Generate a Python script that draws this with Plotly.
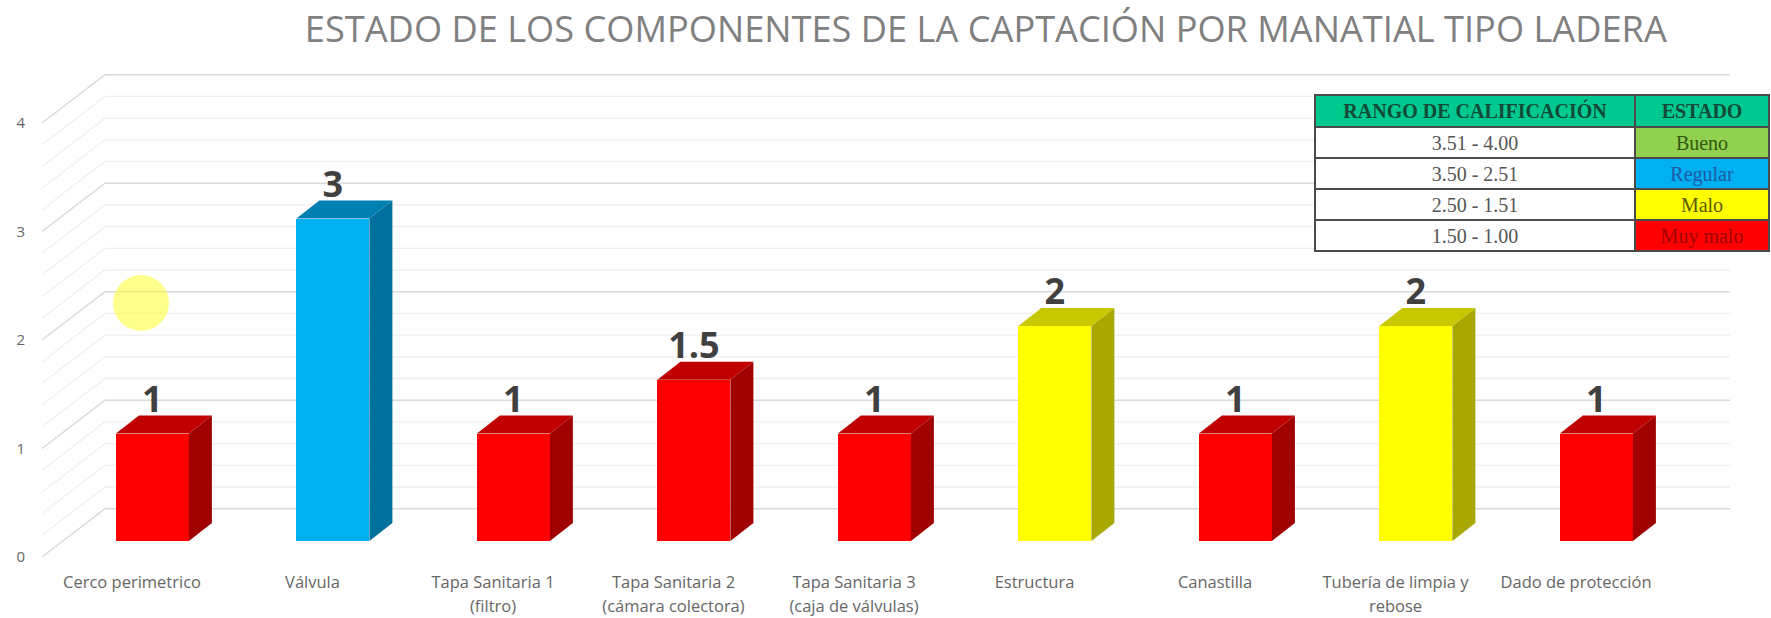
import plotly.graph_objects as go

categories_line1 = ["Cerco perimetrico", "Válvula", "Tapa Sanitaria 1", "Tapa Sanitaria 2", "Tapa Sanitaria 3",
                    "Estructura", "Canastilla", "Tubería de limpia y", "Dado de protección"]
categories_line2 = ["", "", "(filtro)", "(cámara colectora)", "(caja de válvulas)", "", "", "rebose", ""]
values = [1, 3, 1, 1.5, 1, 2, 1, 2, 1]
value_labels = ["1", "3", "1", "1.5", "1", "2", "1", "2", "1"]
state = ["malo+", "regular", "malo+", "malo+", "malo+", "malo", "malo+", "malo", "malo+"]
y_ticks = [0, 1, 2, 3, 4]
table_ranges = ["3.51 - 4.00", "3.50 - 2.51", "2.50 - 1.51", "1.50 - 1.00"]
table_states = ["Bueno", "Regular", "Malo", "Muy malo"]

FRONT = {"malo+": "#FF0000", "regular": "#00B0F0", "malo": "#FFFF00"}
TOP = {"malo+": "#C00000", "regular": "#0080B0", "malo": "#C8C800"}
SIDE = {"malo+": "#A00000", "regular": "#00709C", "malo": "#A8A800"}

W, H = 1771, 618
PL, PB = 35, 56            # plot margins
PX_X = 180.5               # px per category
X0_PX = 132                # px of category 0 label
BAR_OFF = 0.113            # bar centre offset from label
BAR_W = 73 / PX_X
DX = 23 / PX_X
PT = 0
plot_bottom = H - PB
BAR_UNIT, BAR_ZERO = 107.5, 541
WALL_UNIT, WALL_ZERO = 108.5, 557
DY = 18 / BAR_UNIT
WALL_BACK = 0.445
WX_FRONT = (42 - X0_PX) / PX_X
WX_BACK = (105 - X0_PX) / PX_X
WX_END = (1730 - X0_PX) / PX_X

x_range = [(PL - X0_PX) / PX_X, (W - X0_PX) / PX_X]
wall_range = [(WALL_ZERO - plot_bottom) / WALL_UNIT, WALL_ZERO / WALL_UNIT]
bar_range = [(BAR_ZERO - plot_bottom) / BAR_UNIT, BAR_ZERO / BAR_UNIT]

fig = go.Figure()

# Gridlines (walls), lowest layer
for k in range(0, 21):
    v = k * 0.2
    major = k % 5 == 0
    fig.add_trace(go.Scatter(
        x=[WX_FRONT, WX_BACK, WX_END], y=[v, v + WALL_BACK, v + WALL_BACK],
        mode="lines", line=dict(color="#D9D9D9" if major else "#F0F0F0", width=1.5 if major else 1.3),
        hoverinfo="skip", showlegend=False, xaxis="x", yaxis="y"))

xs = [i + BAR_OFF for i in range(len(values))]

# Front faces
fig.add_trace(go.Bar(x=xs, y=values, width=BAR_W, marker=dict(color=[FRONT[s] for s in state], line_width=0),
                     xaxis="x", yaxis="y2", showlegend=False, hoverinfo="skip"))

# Side and top faces
for x, v, s in zip(xs, values, state):
    r = x + BAR_W / 2
    l = x - BAR_W / 2
    fig.add_trace(go.Scatter(x=[r, r + DX, r + DX, r, r], y=[0, DY, v + DY, v, 0], mode="lines", fill="toself",
                             fillcolor=SIDE[s], line_width=0, hoverinfo="skip", showlegend=False,
                             xaxis="x", yaxis="y2"))
    fig.add_trace(go.Scatter(x=[l, l + DX, r + DX, r, l], y=[v, v + DY, v + DY, v, v], mode="lines", fill="toself",
                             fillcolor=TOP[s], line_width=0, hoverinfo="skip", showlegend=False,
                             xaxis="x", yaxis="y2"))

# Value labels
fig.add_trace(go.Scatter(x=xs, y=[v + DY - 0.05 for v in values], mode="text", text=value_labels,
                         textposition="top center",
                         textfont=dict(family="Open Sans", size=36, color="#404040", weight="bold"),
                         hoverinfo="skip", showlegend=False, xaxis="x", yaxis="y2"))

# Pointer highlight
fig.add_trace(go.Scatter(x=[(141 - 132) / PX_X], y=[(541 - 303) / BAR_UNIT], mode="markers",
                         marker=dict(size=56, color="rgba(255,255,0,0.45)", line_width=0),
                         hoverinfo="skip", showlegend=False, xaxis="x", yaxis="y2"))

# Second line of the category labels
tick_idx = list(range(len(values)))
fig.add_trace(go.Scatter(x=tick_idx, y=[0] * len(tick_idx), mode="markers", marker=dict(opacity=0),
                         hoverinfo="skip", showlegend=False, xaxis="x2", yaxis="y"))

# Rating table (domain is a fraction of the plot area)
plot_w, plot_h = W - PL, H - PB - PT
table_x = [(1315 - PL) / plot_w, (1769 - PL) / plot_w]
table_y = [1 - (256 - PT) / plot_h, 1 - (95 - PT) / plot_h]
fig.add_trace(go.Table(
    domain=dict(x=table_x, y=table_y),
    columnwidth=[320, 134],
    header=dict(values=["RANGO DE CALIFICACIÓN", "ESTADO"],
                fill_color="#00C98F", line=dict(color="#4A4A4A", width=1.5), height=32, align="center",
                font=dict(family="Liberation Serif", size=20, color="#124A3A", weight="bold")),
    cells=dict(values=[table_ranges, table_states],
               fill_color=[["#FFFFFF"] * 4, ["#92D050", "#00B0F0", "#FFFF00", "#FF0000"]],
               line=dict(color="#4A4A4A", width=1.5), height=31, align="center",
               font=dict(family="Liberation Serif", size=20,
                         color=[["#555555"] * 4, ["#2F5A10", "#1F5AA8", "#5A5A00", "#A00000"]]))))

tick_font = dict(family="Open Sans", size=16.5, color="#666666")
fig.update_layout(
    width=W, height=H, margin=dict(l=PL, r=0, t=PT, b=PB, autoexpand=False),
    paper_bgcolor="white", plot_bgcolor="white", showlegend=False, bargap=0,
    title=dict(text="ESTADO DE LOS COMPONENTES DE LA CAPTACIÓN POR MANATIAL TIPO LADERA",
               x=970 / W, xanchor="center", xref="paper", y=1 - 29 / H, yanchor="middle",
               font=dict(family="Open Sans", size=36.2, color="#808080")),
    xaxis=dict(range=x_range, tickmode="array", tickvals=tick_idx, ticktext=categories_line1,
               showgrid=False, zeroline=False, showline=False, ticks="", tickfont=tick_font, tickangle=0,
               ticklabelstandoff=8),
    xaxis2=dict(range=x_range, overlaying="x", side="bottom", anchor="y", tickmode="array", tickvals=tick_idx,
                ticktext=categories_line2, showgrid=False, zeroline=False, showline=False, ticks="",
                tickfont=tick_font, tickangle=0, ticklabelstandoff=32),
    yaxis=dict(range=wall_range, tickmode="array", tickvals=y_ticks, showgrid=False, zeroline=False, showline=False,
               ticks="", tickfont=dict(family="Open Sans", size=15, color="#666666"), ticklabelstandoff=9),
    yaxis2=dict(range=bar_range, overlaying="y", showgrid=False, zeroline=False, showline=False,
                showticklabels=False, ticks=""),
)

# The figure fills the window, so the page's default body margin is removed.
fig.write_html("out.html", post_script="document.body.style.margin = '0';",
               config={"displayModeBar": False})
